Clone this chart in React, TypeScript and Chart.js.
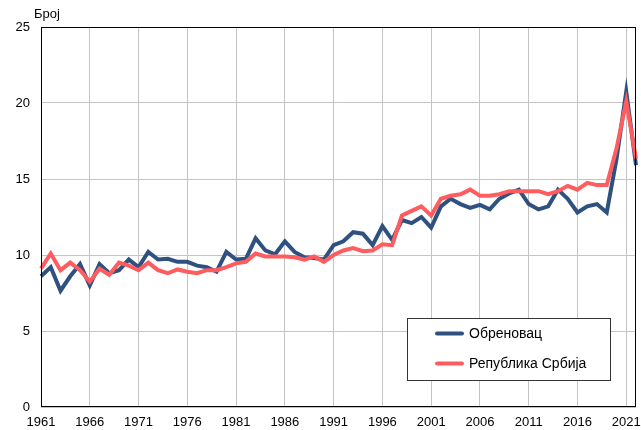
import React, { useEffect, useRef } from "react";
import { Chart, registerables } from "chart.js";
Chart.register(...registerables);

const years = [
  "1961", "1962", "1963", "1964", "1965", "1966", "1967", "1968", "1969", "1970",
  "1971", "1972", "1973", "1974", "1975", "1976", "1977", "1978", "1979", "1980",
  "1981", "1982", "1983", "1984", "1985", "1986", "1987", "1988", "1989", "1990",
  "1991", "1992", "1993", "1994", "1995", "1996", "1997", "1998", "1999", "2000",
  "2001", "2002", "2003", "2004", "2005", "2006", "2007", "2008", "2009", "2010",
  "2011", "2012", "2013", "2014", "2015", "2016", "2017", "2018", "2019", "2020",
  "2021", "2022",
];

const obrenovac = [
  8.6, 9.2, 7.65, 8.6, 9.4, 8.0, 9.4, 8.8, 9.0, 9.7,
  9.2, 10.2, 9.7, 9.75, 9.55, 9.55, 9.3, 9.2, 8.9, 10.2,
  9.7, 9.75, 11.1, 10.3, 10.05, 10.9, 10.2, 9.85, 9.8, 9.7,
  10.65, 10.9, 11.5, 11.4, 10.65, 11.9, 11.0, 12.3, 12.1, 12.5,
  11.8, 13.2, 13.7, 13.35, 13.1, 13.3, 13.0, 13.7, 14.05, 14.3,
  13.35, 13.0, 13.2, 14.3, 13.7, 12.8, 13.2, 13.35, 12.8, 16.3,
  20.75, 15.9,
];

const serbia = [
  9.1, 10.1, 9.0, 9.5, 9.0, 8.25, 9.1, 8.7, 9.5, 9.3,
  9.0, 9.5, 9.0, 8.8, 9.05, 8.9, 8.8, 9.0, 9.0, 9.2,
  9.45, 9.55, 10.1, 9.9, 9.9, 9.9, 9.85, 9.7, 9.9, 9.55,
  10.0, 10.3, 10.45, 10.25, 10.3, 10.7, 10.65, 12.6, 12.9, 13.2,
  12.6, 13.7, 13.9, 14.0, 14.3, 13.9, 13.9, 14.0, 14.2, 14.2,
  14.2, 14.2, 14.0, 14.2, 14.55, 14.3, 14.75, 14.6, 14.6, 17.0,
  20.1, 16.35,
];

const seriesNames = ["Обреновац", "Република Србија"];
const seriesColors = ["#2e5180", "#ff5c60"];
const yAxisTitle = "Број";
const yMin = 0;
const yMax = 25;
const yStep = 5;

const FONT = "'Liberation Sans', Arial, sans-serif";

export default function App() {
  const ref = useRef<HTMLCanvasElement>(null);

  useEffect(() => {
    if (!ref.current) return;

    const decor = {
      id: "decor",
      afterDraw(chart: any) {
        const ctx = chart.ctx;
        const a = chart.chartArea;
        ctx.save();
        // frame
        ctx.strokeStyle = "#000";
        ctx.lineWidth = 1;
        ctx.strokeRect(
          Math.round(a.left) + 0.5,
          Math.round(a.top) + 0.5,
          Math.round(a.right - a.left) - 1,
          Math.round(a.bottom - a.top) - 1
        );
        // axis title
        ctx.fillStyle = "#000";
        ctx.font = `13px ${FONT}`;
        ctx.textAlign = "left";
        ctx.textBaseline = "alphabetic";
        ctx.fillText(yAxisTitle, 34, 18);
        // legend
        const bx = 407.5, by = 318.5, bw = 203, bh = 62;
        ctx.fillStyle = "#fff";
        ctx.fillRect(bx, by, bw, bh);
        ctx.strokeStyle = "#333";
        ctx.lineWidth = 1;
        ctx.strokeRect(bx, by, bw, bh);
        ctx.font = `14px ${FONT}`;
        ctx.textBaseline = "middle";
        seriesNames.forEach((name, i) => {
          const yy = 333.5 + i * 30;
          ctx.strokeStyle = seriesColors[i];
          ctx.lineWidth = 4;
          ctx.lineCap = "round";
          ctx.beginPath();
          ctx.moveTo(437, yy);
          ctx.lineTo(462, yy);
          ctx.stroke();
          ctx.fillStyle = "#000";
          ctx.fillText(name, 469, yy + 1);
        });
        ctx.restore();
      },
    };

    const chart = new Chart(ref.current, {
      type: "line",
      data: {
        labels: years,
        datasets: [
          {
            label: seriesNames[0],
            data: obrenovac,
            borderColor: seriesColors[0],
            backgroundColor: seriesColors[0],
            borderWidth: 4,
            pointRadius: 0,
            tension: 0,
            order: 1,
          },
          {
            label: seriesNames[1],
            data: serbia,
            borderColor: seriesColors[1],
            backgroundColor: seriesColors[1],
            borderWidth: 4,
            pointRadius: 0,
            tension: 0,
            order: 0,
          },
        ],
      },
      options: {
        animation: false,
        responsive: false,
        events: [],
        layout: { padding: { top: 27, right: 5, left: 0, bottom: 0 } },
        plugins: {
          legend: { display: false },
          tooltip: { enabled: false },
          title: { display: false },
        },
        scales: {
          x: {
            type: "category",
            offset: false,
            border: { display: false },
            grid: {
              drawTicks: false,
              lineWidth: 1,
              color: (c: any) => (c.index % 5 === 0 ? "#c4c4c4" : "rgba(0,0,0,0)"),
            },
            ticks: {
              autoSkip: false,
              maxRotation: 0,
              minRotation: 0,
              padding: 8,
              color: "#000",
              font: { family: FONT, size: 13 },
              callback: (_v: any, i: number) => (i % 5 === 0 ? years[i] : ""),
            },
            afterFit: (s: any) => {
              s.height = 23;
              s.paddingLeft = 0;
              s.paddingRight = 0;
            },
          },
          y: {
            min: yMin,
            max: yMax,
            border: { display: false },
            grid: { drawTicks: false, color: "#c4c4c4", lineWidth: 1 },
            ticks: {
              stepSize: yStep,
              padding: 11,
              color: "#000",
              font: { family: FONT, size: 13 },
            },
            afterFit: (s: any) => {
              s.width = 41;
            },
          },
        },
      },
      plugins: [decor],
    });

    return () => chart.destroy();
  }, []);

  return (
    <div style={{ position: "absolute", left: 0, top: 0, width: 641, height: 430, background: "#fff" }}>
      <canvas ref={ref} width={641} height={430} />
    </div>
  );
}
